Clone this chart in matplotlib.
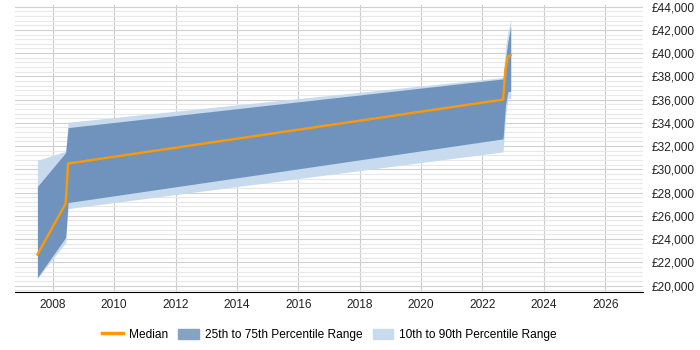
import numpy as np
import matplotlib.pyplot as plt
from matplotlib.patches import Patch
from matplotlib.lines import Line2D
from matplotlib.ticker import MultipleLocator, FuncFormatter

plt.rcParams['font.family'] = ['Liberation Sans', 'DejaVu Sans']

# Werte aus dem Bild geschaetzt
years = [2007.5, 2008.42, 2008.5, 2022.67, 2022.75, 2022.83, 2022.92]
median = [22670, 27050, 30500, 36000, 38580, 39720, 39810]
p25 = [20690, 24130, 27140, 32620, 35500, 36700, 36710]
p75 = [28520, 31440, 33590, 37780, 39440, 41000, 42300]
p10 = [20600, 23700, 26620, 31500, 34500, 36100, 36090]
p90 = [30780, 31550, 34050, 37900, 40500, 41800, 42900]

orange = '#ff9900'
dark = '#7093bd'
light = '#c8daee'

fig = plt.figure(figsize=(7, 3.5), dpi=100)
ax = fig.add_axes([0.021, 0.166, 0.898, 0.820])

ax.fill_between(years, p10, p90, color=light, lw=0, zorder=2)
ax.fill_between(years, p25, p75, color=dark, lw=0, zorder=3)
ax.plot(years, median, color=orange, lw=1.7, zorder=4)

ax.set_xlim(2006.76, 2027.24)
ax.set_ylim(19450, 44150)
ax.xaxis.set_major_locator(MultipleLocator(2))
ax.yaxis.set_major_locator(MultipleLocator(2000))
ax.yaxis.set_minor_locator(MultipleLocator(400))
ax.yaxis.set_major_formatter(FuncFormatter(lambda v, p: '£{:,.0f}'.format(v)))
ax.yaxis.tick_right()

ax.grid(axis='x', color='#cccccc', lw=0.8, zorder=0)
ax.grid(axis='y', which='major', color='#d0d0d0', lw=0.8, zorder=0)
ax.grid(axis='y', which='minor', color='#e8e8e8', lw=0.8, zorder=0)

for s in ['top', 'left', 'right']:
    ax.spines[s].set_visible(False)
ax.spines['bottom'].set_color('black')
ax.tick_params(axis='both', which='both', length=0, labelsize=8.6, colors='#222222')
ax.tick_params(axis='y', pad=6)
ax.tick_params(axis='x', pad=5)

handles = [Line2D([0], [0], color=orange, lw=2.5),
           Patch(color='#87a3c4'),
           Patch(color=light)]
labels = ['Median', '25th to 75th Percentile Range', '10th to 90th Percentile Range']
fig.legend(handles, labels, loc='center', bbox_to_anchor=(0.471, 0.043), ncol=3,
           frameon=False, fontsize=8.6, handlelength=1.7, handleheight=1.0,
           handletextpad=0.5, columnspacing=0.9)

fig.savefig('out.png', dpi=100)
